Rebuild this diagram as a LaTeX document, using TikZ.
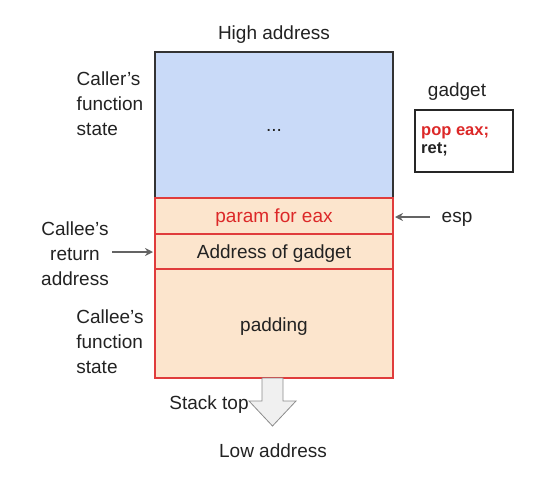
\documentclass[tikz,border=0pt]{standalone}
\usepackage{fontspec}
\setmainfont{Liberation Sans}
\usetikzlibrary{arrows.meta}
\definecolor{bluefill}{RGB}{201,218,248}
\definecolor{peach}{RGB}{252,229,205}
\definecolor{redline}{RGB}{224,60,60}
\definecolor{redtext}{RGB}{220,40,40}
\definecolor{txt}{RGB}{34,34,34}
\definecolor{arrowgray}{RGB}{100,100,100}
\tikzset{
  lbl/.style={font=\fontsize{19}{25}\selectfont, text=txt, align=center, inner sep=0pt},
  stackcell/.style={draw=redline, line width=1.3pt, fill=peach},
  pointer/.style={draw=arrowgray, line width=1.3pt, -{Stealth[length=8pt,width=8pt]}}
}
\begin{document}
\begin{tikzpicture}[x=1pt,y=-1pt]
\useasboundingbox (0,0) rectangle (555,477);
% caller frame
\draw[fill=bluefill, draw=black!80, line width=1.3pt] (155,52) rectangle (393,198);
\node[lbl] (dots) at (274,130) {...};
% stack cells
\draw[stackcell] (155,198) rectangle (393,234);
\draw[stackcell] (155,234) rectangle (393,269);
\draw[stackcell] (155,269) rectangle (393,378);
\node[lbl, text=redtext] (param) at (274,218) {param for eax};
\node[lbl] (addr) at (274,254) {Address of gadget};
\node[lbl] (pad) at (274,327) {padding};
\coordinate (paramR) at (395,217);
\coordinate (addrL) at (153,252);
% labels
\node[lbl] (high) at (274,35) {High address};
\node[lbl, align=left] (caller) at (110,104) {Caller's\\function\\state};
\node[lbl, align=center] (calleeret) at (75,254) {Callee's\\return\\address};
\node[lbl, align=left] (calleefs) at (110,342) {Callee's\\function\\state};
\node[lbl] (esp) at (457,219) {esp};
\draw[pointer] (430,217) -- (paramR);
\draw[pointer] (112,252) -- (addrL);
% gadget
\node[lbl] (gadgetlbl) at (457,92) {gadget};
\node[draw=black!85, line width=1.3pt, minimum width=98pt, minimum height=62pt, inner sep=0pt] (gadget) at (464,141) {};
\node[lbl, align=left, anchor=north west, font=\fontsize{16.5}{18}\selectfont\bfseries] (code) at (421,126) {\textcolor{redtext}{pop eax;}\\ret;};
% stack top arrow
\draw[fill=black!6, draw=black!45, line width=0.8pt] (262,378) -- (283,378) -- (283,401) -- (296,401) -- (272.5,426) -- (249,401) -- (262,401) -- cycle;
\node[lbl] (stacktop) at (209,405) {Stack top};
\node[lbl] (low) at (273,451) {Low address};
\end{tikzpicture}
\end{document}
